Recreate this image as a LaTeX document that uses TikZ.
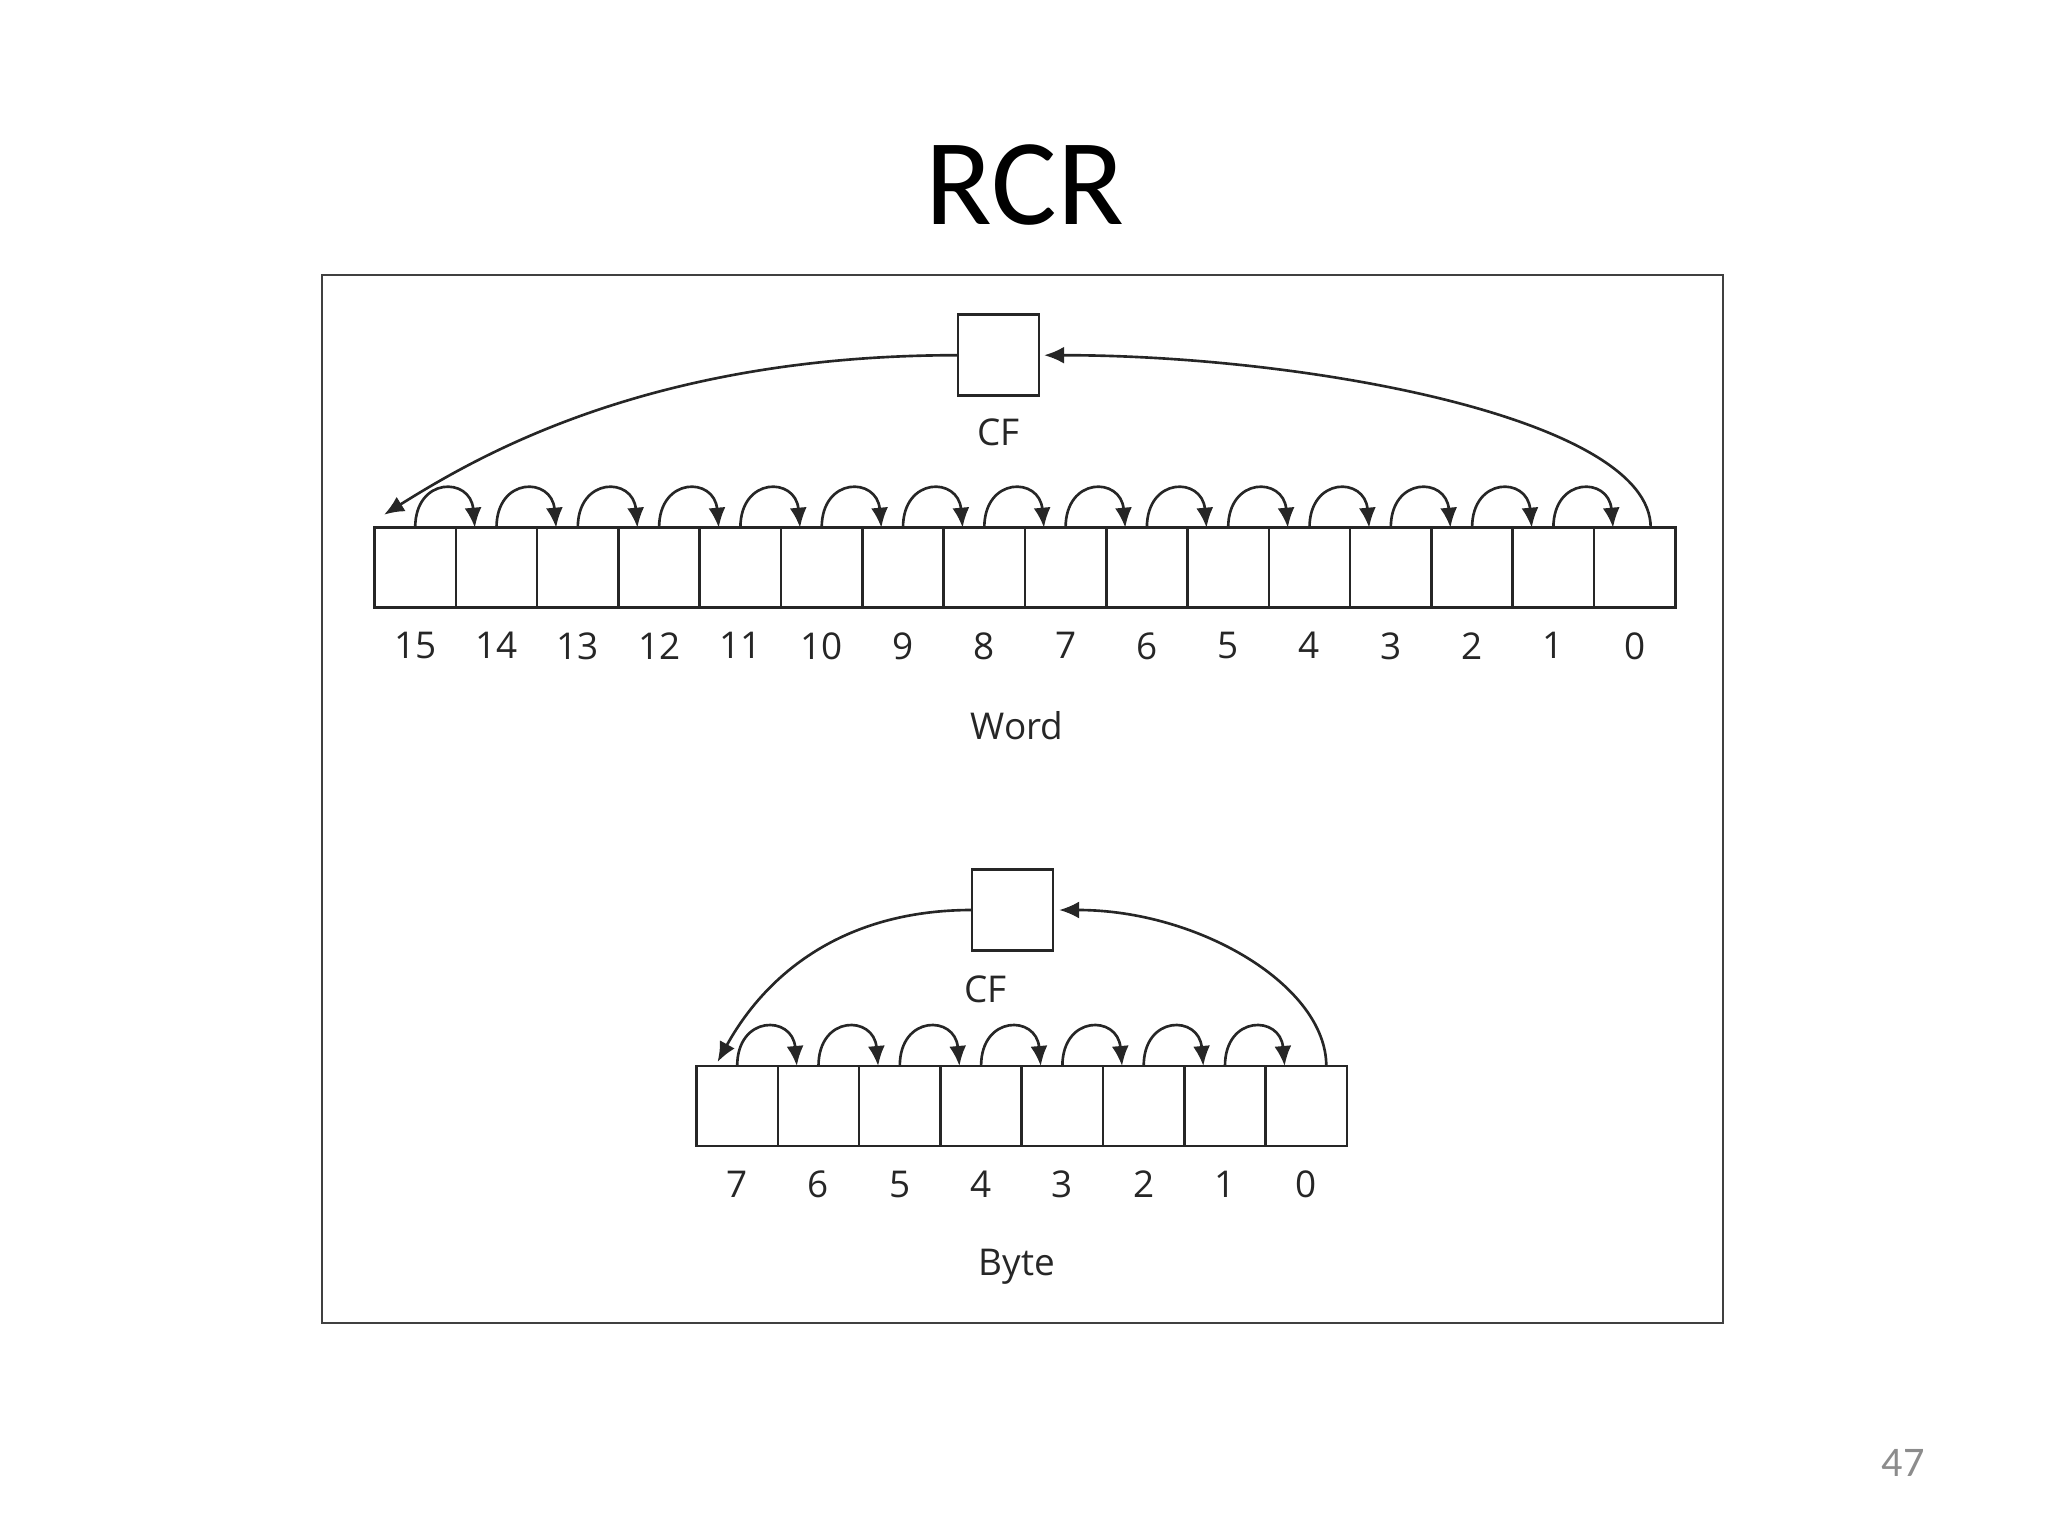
\documentclass[tikz,border=0pt]{standalone}
\usepackage{fontspec}
\setmainfont{Open Sans}
\newfontfamily\slidefont{Carlito}
\usetikzlibrary{positioning,arrows.meta}

\begin{document}
\begin{tikzpicture}
  [cell/.style={rectangle,draw=black!85,line width=0.75pt,
inner sep=0pt,outer sep=0pt,minimum width=8.13mm,minimum height=8mm},
   flag/.style={rectangle,draw=black!85,line width=0.75pt,
inner sep=0pt,outer sep=0pt,minimum size=8.1mm},
   bitnum/.style={inner sep=0pt,font=\fontsize{10.5}{12}\selectfont,text=black!85},
   hop/.style={-{Latex[length=2mm,width=1.7mm]},line width=0.75pt,draw=black!85}]
  \useasboundingbox (0,0) rectangle (20.48,-15.36);
  \draw[line width=0.65pt,black!75] (3.22,-2.75) rectangle (17.23,-13.23);
  \node[font=\slidefont\fontsize{35}{42}\selectfont,anchor=base] (title) at (10.25,-2.246) {RCR};

  % word register
  \node[cell] (w15) at (4.152,-5.677) {};
  \foreach \n [evaluate=\n as \p using int(\n+1)] in {14,13,...,0}
    \node[cell,right=0pt of w\p] (w\n) {};
  \foreach \n in {15,14,...,0}
    \node[bitnum,below=2.4mm of w\n] (nw\n) {\n};
  \foreach \n [evaluate=\n as \p using int(\n+1)] in {14,13,...,0}
    \draw[hop] (w\p.north) to[out=90,in=95,looseness=2.2] ([xshift=1.9mm]w\n.north west);
  \node[bitnum,anchor=base] (wordlbl) at (10.17,-7.40) {Word};

  \node[flag] (cfw) at (9.986,-3.552) {};
  \node[bitnum,below=2.2mm of cfw] (cfwlbl) {CF};
  \draw[hop] (cfw.west) .. controls +(-3.07,0) and +(0.96,0.6) .. ([xshift=0.95mm,yshift=1.3mm]w15.north west);
  \draw[hop] ([xshift=1.6mm]w0.north) .. controls +(0,1.1) and +(2.6,0) .. ([xshift=0.5mm]cfw.east);

  % byte register
  \node[cell] (b7) at (7.372,-11.06) {};
  \foreach \n [evaluate=\n as \p using int(\n+1)] in {6,5,...,0}
    \node[cell,right=0pt of b\p] (b\n) {};
  \foreach \n in {7,6,...,0}
    \node[bitnum,below=2.4mm of b\n] (nb\n) {\n};
  \foreach \n [evaluate=\n as \p using int(\n+1)] in {6,5,...,0}
    \draw[hop] (b\p.north) to[out=90,in=95,looseness=2.2] ([xshift=1.9mm]b\n.north west);
  \node[bitnum,anchor=base] (bytelbl) at (10.17,-12.75) {Byte};

  \node[flag] (cfb) at (10.126,-9.10) {};
  \node[bitnum,below=2.5mm of cfb,xshift=-2.7mm] (cfblbl) {CF};
  \draw[hop] (cfb.west) .. controls +(-1.3,0) and +(0.48,0.87) .. ([xshift=2.1mm,yshift=0.4mm]b7.north west);
  \draw[hop] ([xshift=2mm]b0.north) .. controls +(0,0.8) and +(1.4,0) .. ([xshift=0.6mm]cfb.east);

  \node[font=\slidefont\fontsize{12}{14}\selectfont,text=black!45,anchor=base] (pagenum) at (19.03,-14.76) {47};
\end{tikzpicture}
\end{document}
